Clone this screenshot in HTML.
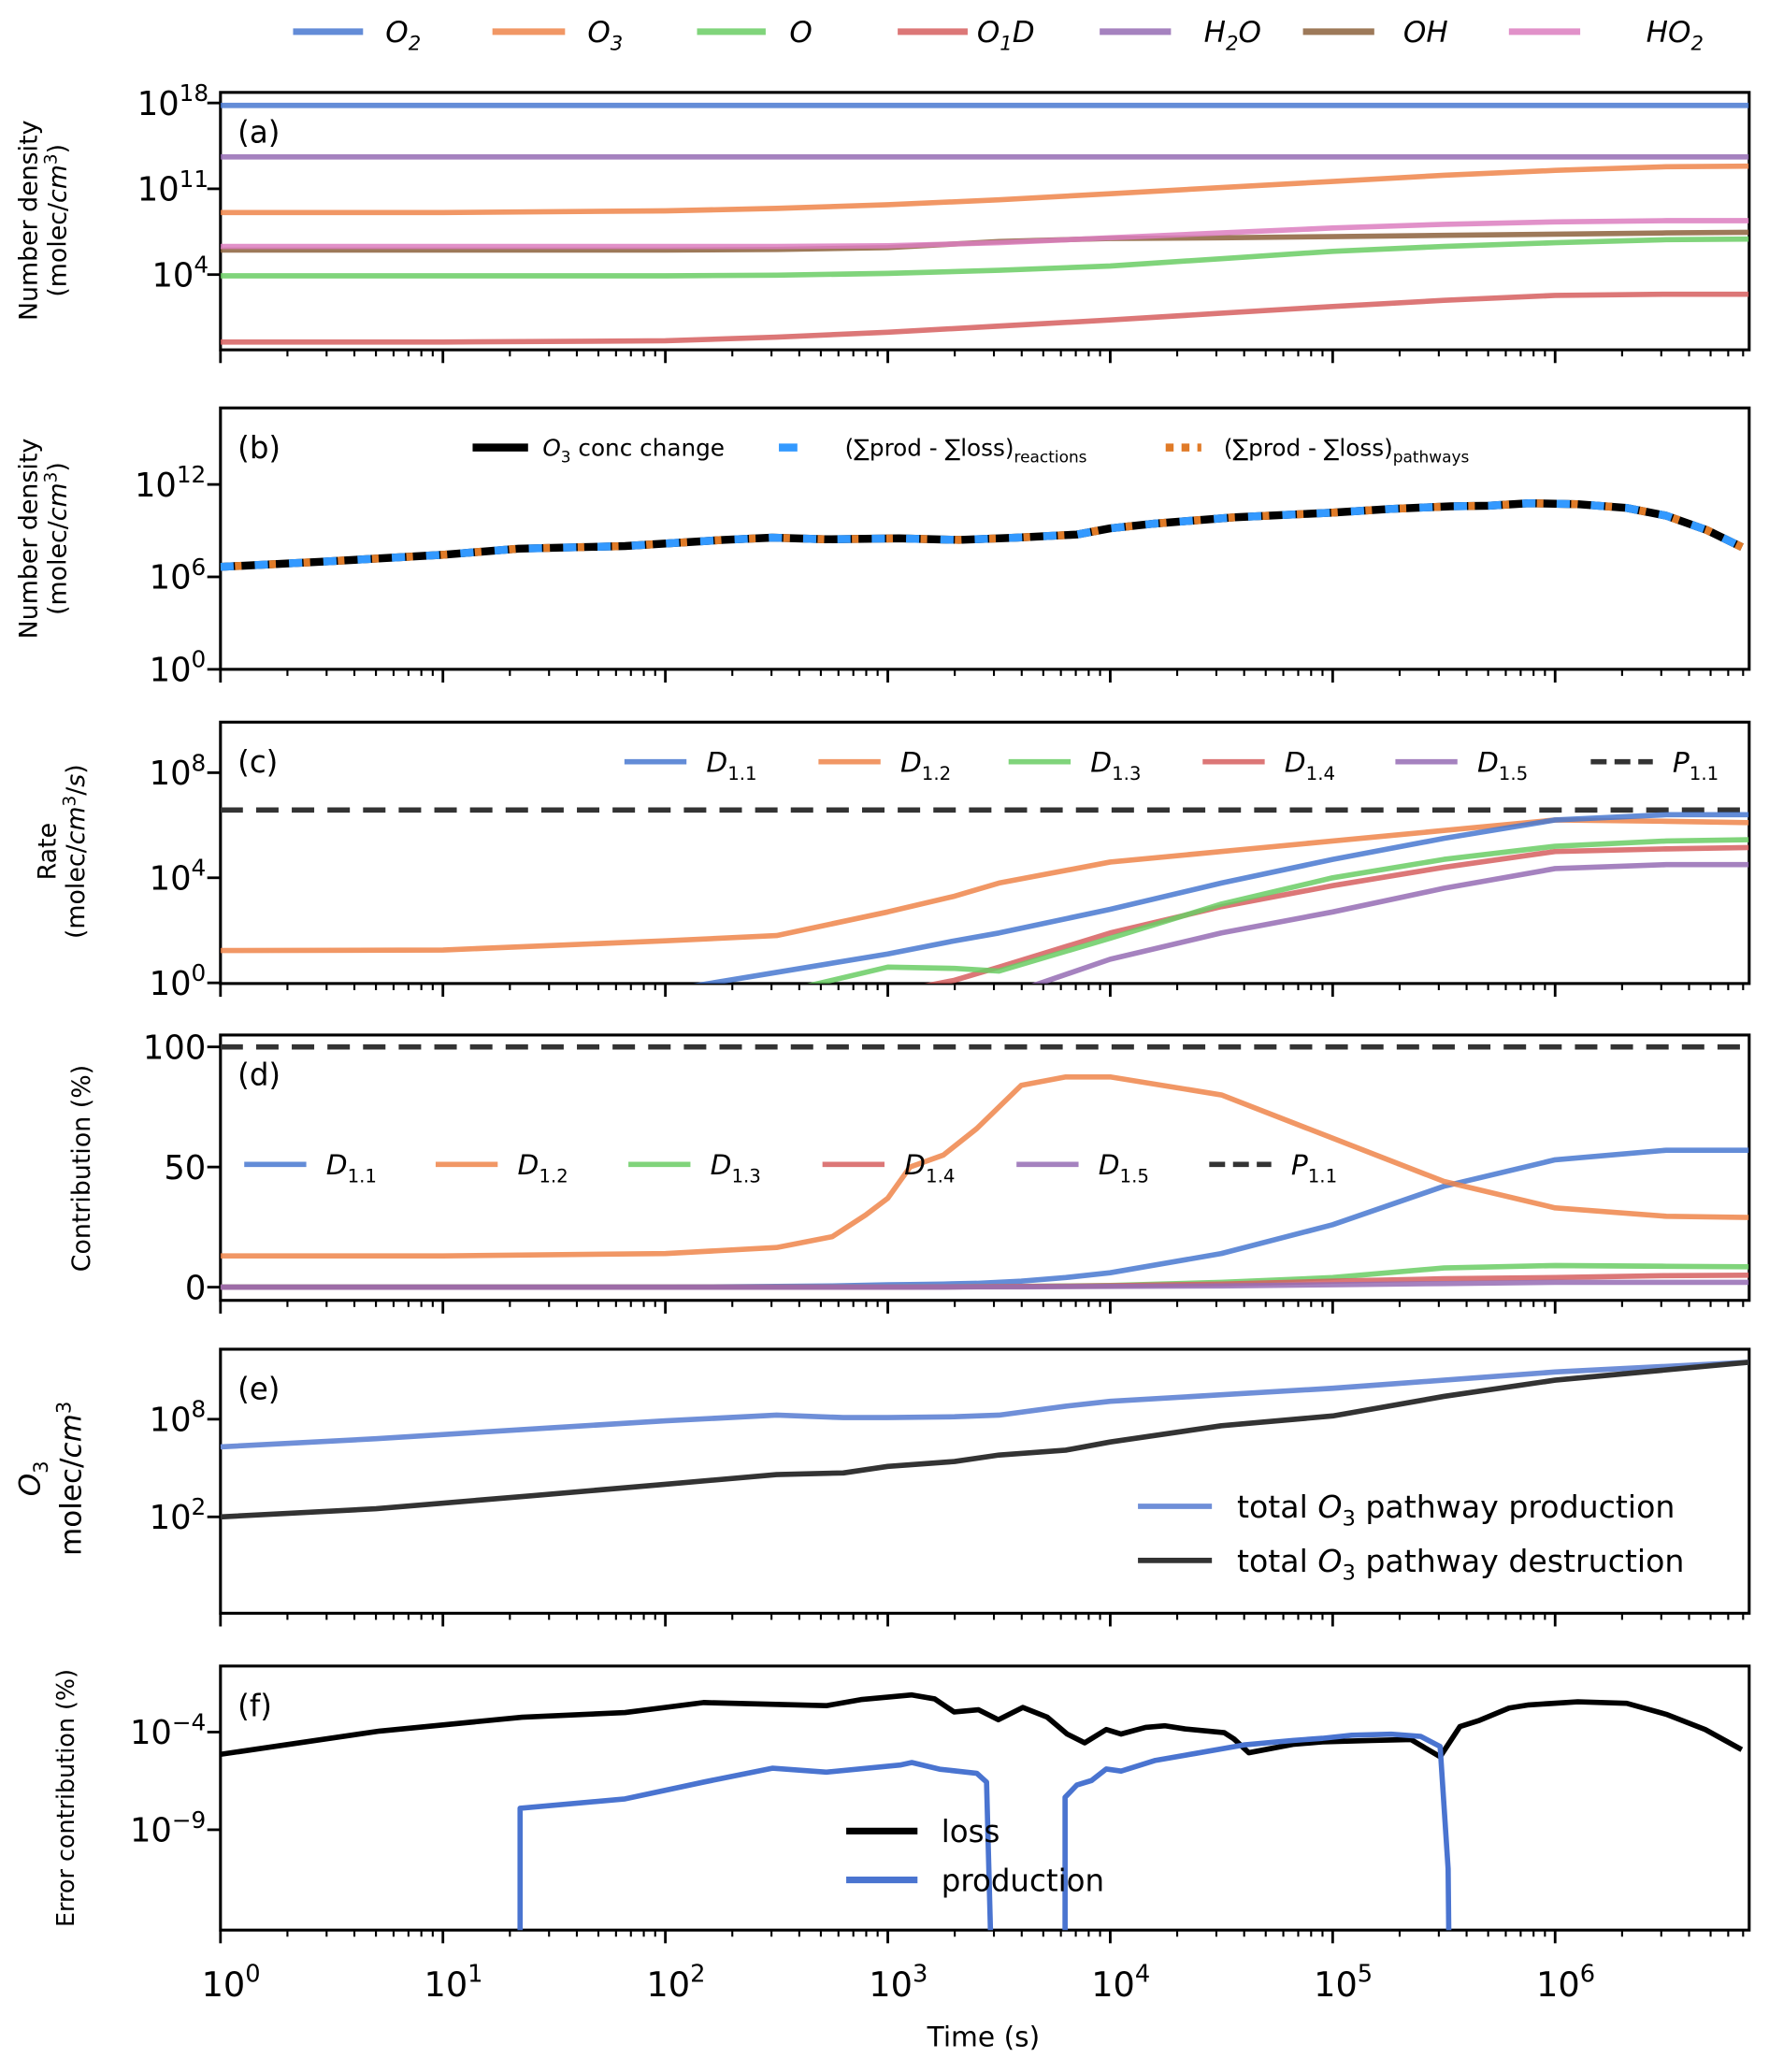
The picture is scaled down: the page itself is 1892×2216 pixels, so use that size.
<!DOCTYPE html>
<html><head><meta charset="utf-8">
<style>
html,body{margin:0;padding:0;background:#fff;}
svg{display:block;font-family:"DejaVu Sans","Liberation Sans",sans-serif;}
</style></head>
<body>
<svg id="fig" width="1892" height="2216" viewBox="0 0 1340 1569.5" xmlns="http://www.w3.org/2000/svg">
<defs>
<clipPath id="clipA"><rect x="167" y="70" width="1158" height="195"/></clipPath>
<clipPath id="clipB"><rect x="167" y="309" width="1158" height="198"/></clipPath>
<clipPath id="clipC"><rect x="167" y="547" width="1158" height="198"/></clipPath>
<clipPath id="clipD"><rect x="167" y="784" width="1158" height="201"/></clipPath>
<clipPath id="clipE"><rect x="167" y="1022" width="1158" height="200"/></clipPath>
<clipPath id="clipF"><rect x="167" y="1262" width="1158" height="200"/></clipPath>
</defs>
<g id="root"></g>
</svg>
<script>
// ---- data (log10 time, log10 values unless noted) ----
const tA = [0,1,2,2.5,3,3.5,4,4.5,5,5.5,6,6.5,6.87];
const aO2 = [17.8,17.8,17.8,17.8,17.8,17.8,17.8,17.8,17.8,17.8,17.8,17.8,17.8];
const aO3 = [9.06,9.06,9.2,9.4,9.7,10.1,10.6,11.1,11.6,12.1,12.5,12.8,12.85];
const aO = [3.9,3.9,3.9,3.95,4.1,4.35,4.7,5.3,5.9,6.3,6.6,6.85,6.9];
const aO1D = [-1.5,-1.5,-1.4,-1.1,-0.7,-0.2,0.3,0.85,1.4,1.9,2.3,2.4,2.4];
const aH2O = [13.6,13.6,13.6,13.6,13.6,13.6,13.6,13.6,13.6,13.6,13.6,13.6,13.6];
const aOH = [6.0,6.0,6.0,6.05,6.2,6.7,6.95,7.0,7.1,7.2,7.3,7.4,7.45];
const aHO2 = [6.3,6.3,6.3,6.3,6.35,6.6,7.0,7.4,7.8,8.1,8.3,8.4,8.4];

const tB = [0,0.45,0.996,1.34,1.819,2.26,2.48,2.72,3.05,3.32,3.58,3.85,4.0,4.2,4.56,5.0,5.26,5.53,5.7,5.88,6.1,6.32,6.5,6.68,6.84];
const bO3 = [6.65,6.98,7.43,7.83,8.0,8.4,8.55,8.44,8.5,8.4,8.55,8.75,9.15,9.46,9.87,10.17,10.41,10.58,10.62,10.78,10.72,10.48,9.97,9.05,7.93];

const tC = [0,1,2,2.5,3,3.3,3.5,4,4.5,5,5.5,6,6.5,6.87];
const cD11 = [-3,-1.5,-0.3,0.4,1.1,1.6,1.9,2.8,3.8,4.7,5.5,6.2,6.4,6.4];
const cD12 = [1.23,1.25,1.6,1.8,2.7,3.3,3.8,4.6,5.0,5.4,5.8,6.2,6.15,6.1];
const cD13 = [-5,-3,-1.5,-0.4,0.6,0.55,0.45,1.7,3.0,4.0,4.7,5.2,5.4,5.45];
const cD14 = [-5,-4,-2,-1,-0.4,0.1,0.6,1.9,2.9,3.7,4.4,5.0,5.1,5.15];
const cD15 = [-6,-5,-4,-3,-1.5,-0.9,-0.55,0.9,1.9,2.7,3.6,4.35,4.5,4.5];
const cP11 = [6.58,6.58,6.58,6.58,6.58,6.58,6.58,6.58,6.58,6.58,6.58,6.58,6.58,6.58];

const tD = [0,1,2,2.5,2.75,2.9,3,3.1,3.25,3.4,3.6,3.8,4,4.5,5,5.5,6,6.5,6.87];
const dD11 = [0,0,0,0.3,0.5,0.8,1,1.1,1.3,1.6,2.5,4,6,14,26,42,53,57,57];
const dD12 = [13,13,14,16.5,21,30,37,50,55,66,84,87.5,87.5,80,62,44,33,29.5,29];
const dD13 = [0,0,0,0,0,0,0,0.1,0.1,0.2,0.3,0.5,0.7,2,4,8,9,8.7,8.5];
const dD14 = [0,0,0,0,0,0,0,0,0.1,0.2,0.3,0.4,0.6,1.3,2.5,3.5,4,4.8,5];
const dD15 = [0,0,0,0,0,0,0,0,0,0.1,0.1,0.2,0.3,0.5,1,1.5,2,2,2];
const dP11 = [100,100,100,100,100,100,100,100,100,100,100,100,100,100,100,100,100,100,100];

const tE = [0,0.7,1.4,2,2.5,2.8,3,3.3,3.5,3.8,4,4.5,5,5.5,6,6.87];
const eProd = [6.3,6.8,7.4,7.9,8.25,8.1,8.1,8.15,8.25,8.8,9.1,9.5,9.9,10.4,10.9,11.5];
const eDest = [2.0,2.5,3.3,4.0,4.6,4.7,5.1,5.4,5.8,6.1,6.6,7.6,8.2,9.4,10.4,11.5];

const tFloss = [0,0.715,1.356,1.819,2.172,2.724,2.879,3.108,3.21,3.298,3.408,3.497,3.607,3.717,3.806,3.885,3.982,4.049,4.159,4.247,4.336,4.512,4.556,4.623,4.733,4.821,4.954,5.174,5.351,5.483,5.572,5.66,5.793,5.881,6.102,6.322,6.499,6.675,6.839];
const fLoss = [-5.14,-3.95,-3.24,-3.0,-2.49,-2.65,-2.34,-2.1,-2.3,-2.97,-2.86,-3.37,-2.74,-3.24,-4.1,-4.55,-3.87,-4.1,-3.76,-3.68,-3.84,-4.03,-4.35,-5.06,-4.82,-4.63,-4.5,-4.43,-4.38,-5.26,-3.72,-3.4,-2.77,-2.61,-2.45,-2.53,-3.09,-3.87,-4.9];
const tFprod1 = [1.347,1.347,1.819,2.172,2.481,2.724,3.055,3.108,3.233,3.400,3.444,3.475];
const fProd1 = [-20,-7.9,-7.42,-6.56,-5.85,-6.05,-5.69,-5.56,-5.9,-6.11,-6.56,-20];
const tFprod2 = [3.797,3.797,3.85,3.916,3.982,4.049,4.203,4.38,4.6,4.821,4.954,5.086,5.263,5.395,5.483,5.519,5.527];
const fProd2 = [-20,-7.34,-6.71,-6.48,-5.89,-6.0,-5.45,-5.1,-4.66,-4.43,-4.32,-4.16,-4.11,-4.22,-4.74,-11,-20];

const xTickExp = [0,1,2,3,4,5,6];

// ---- axes ----
const X0 = 167, X1 = 1325, DEC = 168.5;
const xs = lt => X0 + lt * DEC;
const yA = v => 78 + (18 - v) * 9.286;
const yB = v => 507 - v * 11.67;
const yC = v => 744.5 - v * 19.9;
const yD = v => 975 - v * 1.82;
const yE = v => 1149 - (v - 2) * 12.33;
const yF = v => 1312 + (-4 - v) * 14.8;

const NS = "http://www.w3.org/2000/svg";
const root = document.getElementById('root');
function mk(tag, attrs, parent, text) {
  const e = document.createElementNS(NS, tag);
  for (const k in attrs) e.setAttribute(k, attrs[k]);
  if (text !== undefined) e.textContent = text;
  (parent || root).appendChild(e);
  return e;
}
function line(ts, vs, yf, color, w, clip, dash, name, opacity) {
  const pts = ts.map((t, i) => xs(t).toFixed(2) + ',' + yf(vs[i]).toFixed(2)).join(' ');
  const p = mk('polyline', {points: pts, fill: 'none', stroke: color, 'stroke-width': w,
    'stroke-linejoin': 'round', 'clip-path': 'url(#' + clip + ')', 'stroke-opacity': opacity || 1});
  if (dash) p.setAttribute('stroke-dasharray', dash);
  
  
  return p;
}
function supText(x, y, base, sup, size, name, anchor) {
  const t = mk('text', {x: x, y: y, 'font-size': size, 'text-anchor': anchor || 'end', fill: '#000'});
  
  
  mk('tspan', {}, t, base);
  mk('tspan', {'font-size': size * 0.7, dy: -size * 0.42}, t, sup);
  return t;
}
function panel(top, bot, name, label) {
  const g = mk('g', {});
  
  
  const r = mk('rect', {x: X0, y: top, width: X1 - X0, height: bot - top, fill: 'none', stroke: '#000', 'stroke-width': 2.2}, g);
  
  
  for (let d = 0; d <= 6; d++) {
    for (let k = 1; k <= 9; k++) {
      const lt = d + Math.log10(k);
      if (lt > 6.87) break;
      const len = k === 1 ? 10 : 5;
      const tk = mk('line', {x1: xs(lt), x2: xs(lt), y1: bot, y2: bot + len, stroke: '#000', 'stroke-width': k === 1 ? 2 : 1.5}, g);
      
      
    }
  }
  const pl = mk('text', {x: 180, y: top + 38, 'font-size': 23}, g, label);
  
  
  return g;
}
function ytick(y, name) {
  const t = mk('line', {x1: X0 - 10, x2: X0, y1: y, y2: y, stroke: '#000', 'stroke-width': 2});
  
  
}
function ytitle(lines, cx, cy, size, name) {
  const t = mk('text', {transform: 'translate(' + cx + ',' + cy + ') rotate(-90)', 'font-size': size, 'text-anchor': 'middle'});
  
  
  lines.forEach((ln, i) => {
    const ts = mk('tspan', {x: 0, dy: i === 0 ? 0 : size * 1.15}, t);
    ln.forEach(part => { mk('tspan', part.a || {}, ts, part.s); });
  });
}
function legendEntry(x1, x2, y, color, w, dash, tx, parts, size, name) {
  const g = mk('g', {});
  
  
  const l = mk('line', {x1: x1, x2: x2, y1: y, y2: y, stroke: color, 'stroke-width': w}, g);
  if (dash) l.setAttribute('stroke-dasharray', dash);
  const t = mk('text', {x: tx, y: y + size * 0.36, 'font-size': size}, g);
  parts.forEach(p => mk('tspan', p.a || {}, t, p.s));
  return g;
}
const it = {'font-style': 'italic'};

const C = {blue: '#4878d0', orange: '#ee854a', green: '#6acc64', red: '#d65f5f', purple: '#956cb4', brown: '#8c613c', pink: '#dc7ec0'};
const OP = 0.85;

// ---- top legend ----
const topLeg = [
  [222, 275, 292, C.blue, 'O', '2', 'legend-o2'],
  [373, 428, 445, C.orange, 'O', '3', 'legend-o3'],
  [528, 580, 598, C.green, 'O', '', 'legend-o'],
  [680, 733, 740, C.red, 'O', '1', 'legend-o1d'],
  [833, 887, 912, C.purple, 'H', '2', 'legend-h2o'],
  [987, 1041, 1063, C.brown, 'OH', '', 'legend-oh'],
  [1143, 1197, 1247, C.pink, 'HO', '2', 'legend-ho2']
];
topLeg.forEach(e => {
  const parts = [{s: e[4], a: it}];
  if (e[5]) parts.push({s: e[5], a: {'font-size': 15, dy: 6, 'font-style': 'italic'}});
  if (e[6] === 'legend-o1d') parts.push({s: 'D', a: {dy: -6, 'font-style': 'italic'}});
  if (e[6] === 'legend-h2o') parts.push({s: 'O', a: {dy: -6, 'font-style': 'italic'}});
  const g = legendEntry(e[0], e[1], 24, e[3], 5, null, e[2], parts, 22, e[6]);
  g.querySelector('line').setAttribute('stroke-opacity', OP);
});

// ---- panel A ----
panel(70, 265, 'panel-a', '(a)');
[[18, 78], [11, 142], [4, 208]].forEach(p => { ytick(yA(p[0]), 'y-tick-a'); supText(158, yA(p[0]) + 9, '10', String(p[0]), 25, 'y-tick-label-a'); });
line(tA, aO2, yA, C.blue, 4, 'clipA', null, 'series-o2', OP);
line(tA, aH2O, yA, C.purple, 4, 'clipA', null, 'series-h2o', OP);
line(tA, aO3, yA, C.orange, 4, 'clipA', null, 'series-o3', OP);
line(tA, aOH, yA, C.brown, 4, 'clipA', null, 'series-oh', OP);
line(tA, aHO2, yA, C.pink, 4, 'clipA', null, 'series-ho2', OP);
line(tA, aO, yA, C.green, 4, 'clipA', null, 'series-o', OP);
line(tA, aO1D, yA, C.red, 4, 'clipA', null, 'series-o1d', OP);
ytitle([[{s: 'Number density'}], [{s: '(molec/'}, {s: 'cm', a: it}, {s: '3', a: {'font-size': 13, dy: -7}}, {s: ')', a: {dy: 7}}]], 28, 167, 19, 'y-axis-title-a');

// ---- panel B ----
panel(309, 507, 'panel-b', '(b)');
[12, 6, 0].forEach(v => { ytick(yB(v), 'y-tick-b'); supText(156, yB(v) + 9, '10', String(v), 25, 'y-tick-label-b'); });
line(tB, bO3, yB, '#000', 6, 'clipB', null, 'series-o3-conc-change');
line(tB, bO3, yB, '#3399ff', 6, 'clipB', '10 16', 'series-reactions');
line(tB, bO3, yB, '#e07b28', 6, 'clipB', '5 21', 'series-pathways').setAttribute('stroke-dashoffset', '-11');
legendEntry(358, 400, 339, '#000', 6, null, 411, [{s: 'O', a: it}, {s: '3', a: {'font-size': 12, dy: 5}}, {s: ' conc change', a: {dy: -5}}], 17.5, 'legend-o3-conc-change');
legendEntry(590, 630, 339, '#3399ff', 6, '14 100', 640, [{s: '(∑prod - ∑loss)'}, {s: 'reactions', a: {'font-size': 12, dy: 5}}], 17.5, 'legend-reactions');
legendEntry(883, 910, 339, '#e07b28', 6, '6 6', 927, [{s: '(∑prod - ∑loss)'}, {s: 'pathways', a: {'font-size': 12, dy: 5}}], 17.5, 'legend-pathways');
ytitle([[{s: 'Number density'}], [{s: '(molec/'}, {s: 'cm', a: it}, {s: '3', a: {'font-size': 13, dy: -7}}, {s: ')', a: {dy: 7}}]], 28, 408, 19, 'y-axis-title-b');

// ---- panel C ----
panel(547, 745, 'panel-c', '(c)');
[8, 4, 0].forEach(v => { ytick(yC(v), 'y-tick-c'); supText(156, yC(v) + 9, '10', String(v), 25, 'y-tick-label-c'); });
line(tC, cP11, yC, '#333', 4, 'clipC', '17 10', 'series-c-p11');
line(tC, cD15, yC, C.purple, 4, 'clipC', null, 'series-c-d15', OP);
line(tC, cD14, yC, C.red, 4, 'clipC', null, 'series-c-d14', OP);
line(tC, cD13, yC, C.green, 4, 'clipC', null, 'series-c-d13', OP);
line(tC, cD12, yC, C.orange, 4, 'clipC', null, 'series-c-d12', OP);
line(tC, cD11, yC, C.blue, 4, 'clipC', null, 'series-c-d11', OP);
function dLeg(y, xs0, tag) {
  const items = [[C.blue, '1.1', 'D'], [C.orange, '1.2', 'D'], [C.green, '1.3', 'D'], [C.red, '1.4', 'D'], [C.purple, '1.5', 'D'], ['#333', '1.1', 'P']];
  items.forEach((e, i) => {
    const x = xs0[i];
    const g = legendEntry(x, x + 47, y, e[0], 4, e[2] === 'P' ? '12 6' : null, x + 62, [{s: e[2], a: it}, {s: e[1], a: {'font-size': 14, dy: 6}}], 21, 'legend-' + tag + '-' + (e[2] + e[1]).replace('.', ''));
    g.querySelector('line').setAttribute('stroke-opacity', e[2] === 'P' ? 1 : OP);
  });
}
dLeg(577, [473, 620, 764, 911, 1057, 1205], 'c');
ytitle([[{s: 'Rate'}], [{s: '(molec/'}, {s: 'cm', a: it}, {s: '3', a: {'font-size': 13, dy: -7}}, {s: '/', a: {dy: 7}}, {s: 's', a: it}, {s: ')'}]], 42, 645, 19, 'y-axis-title-c');

// ---- panel D ----
panel(784, 985, 'panel-d', '(d)');
[0, 50, 100].forEach(v => {
  ytick(yD(v), 'y-tick-d');
  const t = mk('text', {x: 156, y: yD(v) + 9, 'font-size': 25, 'text-anchor': 'end'}, root, String(v));
  
  
});
line(tD, dP11, yD, '#333', 4, 'clipD', '17 10', 'series-d-p11');
line(tD, dD11, yD, C.blue, 4, 'clipD', null, 'series-d-d11', OP);
line(tD, dD13, yD, C.green, 4, 'clipD', null, 'series-d-d13', OP);
line(tD, dD14, yD, C.red, 4, 'clipD', null, 'series-d-d14', OP);
line(tD, dD15, yD, C.purple, 4, 'clipD', null, 'series-d-d15', OP);
line(tD, dD12, yD, C.orange, 4, 'clipD', null, 'series-d-d12', OP);
dLeg(882, [185, 330, 476, 623, 770, 916], 'd');
ytitle([[{s: 'Contribution (%)'}]], 68, 885, 19, 'y-axis-title-d');

// ---- panel E ----
panel(1022, 1222, 'panel-e', '(e)');
[8, 2].forEach(v => { ytick(yE(v), 'y-tick-e'); supText(156, yE(v) + 9, '10', String(v), 25, 'y-tick-label-e'); });
line(tE, eProd, yE, '#6f8fd8', 4, 'clipE', null, 'series-e-production');
line(tE, eDest, yE, '#333', 4, 'clipE', null, 'series-e-destruction');
legendEntry(862, 918, 1141, '#6f8fd8', 4, null, 937, [{s: 'total '}, {s: 'O', a: it}, {s: '3', a: {'font-size': 16, dy: 6}}, {s: ' pathway production', a: {dy: -6}}], 23.5, 'legend-e-production');
legendEntry(862, 918, 1182, '#333', 4, null, 937, [{s: 'total '}, {s: 'O', a: it}, {s: '3', a: {'font-size': 16, dy: 6}}, {s: ' pathway destruction', a: {dy: -6}}], 23.5, 'legend-e-destruction');
ytitle([[{s: 'O', a: it}, {s: '3', a: {'font-size': 15, dy: 6}}], [{s: 'molec/'}, {s: 'cm', a: it}, {s: '3', a: {'font-size': 15, dy: -8}}]], 30, 1120, 22, 'y-axis-title-e');

// ---- panel F ----
panel(1262, 1462, 'panel-f', '(f)');
[-4, -9].forEach(v => { ytick(yF(v), 'y-tick-f'); supText(156, yF(v) + 9, '10', '\u2212' + String(-v), 25, 'y-tick-label-f'); });
line(tFloss, fLoss, yF, '#000', 4, 'clipF', null, 'series-f-loss');
line(tFprod1, fProd1, yF, '#4a74d0', 4, 'clipF', null, 'series-f-production-1');
line(tFprod2, fProd2, yF, '#4a74d0', 4, 'clipF', null, 'series-f-production-2');
legendEntry(641, 695, 1387, '#000', 5, null, 713, [{s: 'loss'}], 23, 'legend-f-loss');
legendEntry(641, 695, 1424, '#4a74d0', 5, null, 713, [{s: 'production'}], 23, 'legend-f-production');
ytitle([[{s: 'Error contribution (%)'}]], 56, 1362, 18, 'y-axis-title-f');

// x tick labels
xTickExp.forEach(d => { supText(xs(d) + 8, 1512, '10', String(d), 26, 'x-tick-label', 'middle'); });
const xt = mk('text', {x: 745, y: 1550, 'font-size': 21, 'text-anchor': 'middle'}, root, 'Time (s)');


</script>
</body></html>
